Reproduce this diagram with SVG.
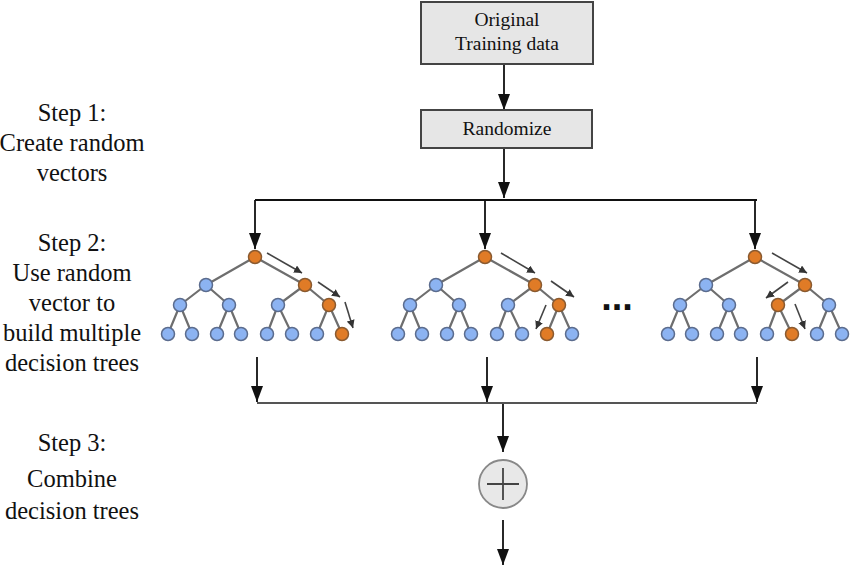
<svg xmlns="http://www.w3.org/2000/svg" xmlns:xlink="http://www.w3.org/1999/xlink" width="850" height="568" viewBox="0 0 850 568">
<style>
.lbl{font-family:"Liberation Serif","Times New Roman",serif;fill:#111;text-anchor:middle}
.step{font-size:24.5px}
.box{fill:#e6e6e6;stroke:#444;stroke-width:2}
.boxt{font-size:19.5px}
.conn{stroke:#111;stroke-width:1.8;fill:none}
.edge{stroke:#6e6e6e;stroke-width:2.2;fill:none}
.b{fill:#8cb3f2;stroke:#5b6c8e;stroke-width:1.5}
.o{fill:#e07b26;stroke:#8a5a30;stroke-width:1.5}
.ptr{stroke:#444;stroke-width:1.6;fill:none}
</style>
<defs>
<marker id="big" viewBox="0 0 16 12" refX="16" refY="6" markerWidth="16" markerHeight="12" markerUnits="userSpaceOnUse" orient="auto">
<path d="M0,0 L16,6 L0,12 z" fill="#111"/>
</marker>
<marker id="sm" viewBox="0 0 8 8" refX="8" refY="4" markerWidth="8" markerHeight="8" markerUnits="userSpaceOnUse" orient="auto">
<path d="M0,0 L8,4 L0,8 z" fill="#333"/>
</marker>
<g id="edges">
<path class="edge" d="M255,257 L206,285 M255,257 L305,285 M206,285 L180,305 M206,285 L229,305 M305,285 L278,305 M305,285 L329,305 M180,305 L168,334 M180,305 L192,334 M229,305 L217,334 M229,305 L241,334 M278,305 L267,334 M278,305 L292,334 M329,305 L317,334 M329,305 L342,334"/>
</g>
</defs>

<g id="step-labels">
<text class="lbl step" x="72" y="121">Step 1:</text>
<text class="lbl step" x="72" y="151">Create random</text>
<text class="lbl step" x="72" y="181">vectors</text>
<text class="lbl step" x="72" y="251">Step 2:</text>
<text class="lbl step" x="72" y="281">Use random</text>
<text class="lbl step" x="72" y="311">vector to</text>
<text class="lbl step" x="72" y="341">build multiple</text>
<text class="lbl step" x="72" y="371">decision trees</text>
<text class="lbl step" x="72" y="451">Step 3:</text>
<text class="lbl step" x="72" y="487">Combine</text>
<text class="lbl step" x="72" y="519">decision trees</text>
</g>

<g id="connectors">
<line class="conn" x1="504" y1="64" x2="504" y2="110" marker-end="url(#big)"/>
<line class="conn" x1="504" y1="148" x2="504" y2="198" marker-end="url(#big)"/>
<line class="conn" x1="255" y1="200" x2="757" y2="200"/>
<line class="conn" x1="255" y1="200" x2="255" y2="249" marker-end="url(#big)"/>
<line class="conn" x1="485" y1="200" x2="485" y2="249" marker-end="url(#big)"/>
<line class="conn" x1="755" y1="200" x2="755" y2="249" marker-end="url(#big)"/>
<line class="conn" x1="257" y1="357" x2="257" y2="402" marker-end="url(#big)"/>
<line class="conn" x1="487" y1="357" x2="487" y2="402" marker-end="url(#big)"/>
<line class="conn" x1="757" y1="357" x2="757" y2="402" marker-end="url(#big)"/>
<line class="conn" x1="257" y1="403" x2="757" y2="403" style="stroke:#555"/>
<line class="conn" x1="503" y1="404" x2="503" y2="452" marker-end="url(#big)"/>
<line class="conn" x1="503" y1="520" x2="503" y2="565" marker-end="url(#big)"/>
</g>

<g id="original">
<rect class="box" x="421" y="2" width="172" height="62"/>
<text class="lbl boxt" x="507" y="26">Original</text>
<text class="lbl boxt" x="507" y="50">Training data</text>
</g>

<g id="randomize">
<rect class="box" x="421" y="110" width="171" height="38"/>
<text class="lbl boxt" x="507" y="135">Randomize</text>
</g>

<g id="tree1">
<use xlink:href="#edges"/>
<circle class="o" cx="255" cy="257" r="6.5"/>
<circle class="b" cx="206" cy="285" r="6.5"/><circle class="o" cx="305" cy="285" r="6.5"/>
<circle class="b" cx="180" cy="305" r="6.5"/><circle class="b" cx="229" cy="305" r="6.5"/><circle class="b" cx="278" cy="305" r="6.5"/><circle class="o" cx="329" cy="305" r="6.5"/>
<circle class="b" cx="168" cy="334" r="6.5"/><circle class="b" cx="192" cy="334" r="6.5"/><circle class="b" cx="217" cy="334" r="6.5"/><circle class="b" cx="241" cy="334" r="6.5"/><circle class="b" cx="267" cy="334" r="6.5"/><circle class="b" cx="292" cy="334" r="6.5"/><circle class="b" cx="317" cy="334" r="6.5"/><circle class="o" cx="342" cy="334" r="6.5"/>
<line class="ptr" x1="267" y1="253" x2="302" y2="273" marker-end="url(#sm)"/>
<line class="ptr" x1="318" y1="282" x2="340" y2="297" marker-end="url(#sm)"/>
<line class="ptr" x1="345" y1="302" x2="353" y2="328" marker-end="url(#sm)"/>
</g>

<g id="tree2">
<use xlink:href="#edges" transform="translate(230,0)"/>
<circle class="o" cx="485" cy="257" r="6.5"/>
<circle class="b" cx="436" cy="285" r="6.5"/><circle class="o" cx="535" cy="285" r="6.5"/>
<circle class="b" cx="410" cy="305" r="6.5"/><circle class="b" cx="459" cy="305" r="6.5"/><circle class="b" cx="508" cy="305" r="6.5"/><circle class="o" cx="559" cy="305" r="6.5"/>
<circle class="b" cx="398" cy="334" r="6.5"/><circle class="b" cx="422" cy="334" r="6.5"/><circle class="b" cx="447" cy="334" r="6.5"/><circle class="b" cx="471" cy="334" r="6.5"/><circle class="b" cx="497" cy="334" r="6.5"/><circle class="b" cx="522" cy="334" r="6.5"/><circle class="o" cx="547" cy="334" r="6.5"/><circle class="b" cx="572" cy="334" r="6.5"/>
<line class="ptr" x1="501" y1="253" x2="535" y2="273" marker-end="url(#sm)"/>
<line class="ptr" x1="551" y1="281" x2="574" y2="297" marker-end="url(#sm)"/>
<line class="ptr" x1="546" y1="305" x2="536" y2="329" marker-end="url(#sm)"/>
</g>

<g id="ellipsis">
<text x="617" y="310" style="font-family:'Liberation Sans',Arial,sans-serif;font-size:38px;font-weight:bold;fill:#111;text-anchor:middle">...</text>
</g>

<g id="tree3">
<use xlink:href="#edges" transform="translate(500,0)"/>
<circle class="o" cx="755" cy="257" r="6.5"/>
<circle class="b" cx="706" cy="285" r="6.5"/><circle class="o" cx="805" cy="285" r="6.5"/>
<circle class="b" cx="680" cy="305" r="6.5"/><circle class="b" cx="729" cy="305" r="6.5"/><circle class="o" cx="778" cy="305" r="6.5"/><circle class="b" cx="829" cy="305" r="6.5"/>
<circle class="b" cx="668" cy="334" r="6.5"/><circle class="b" cx="692" cy="334" r="6.5"/><circle class="b" cx="717" cy="334" r="6.5"/><circle class="b" cx="741" cy="334" r="6.5"/><circle class="b" cx="767" cy="334" r="6.5"/><circle class="o" cx="792" cy="334" r="6.5"/><circle class="b" cx="817" cy="334" r="6.5"/><circle class="b" cx="842" cy="334" r="6.5"/>
<line class="ptr" x1="772" y1="253" x2="807" y2="273" marker-end="url(#sm)"/>
<line class="ptr" x1="788" y1="282" x2="766" y2="298" marker-end="url(#sm)"/>
<line class="ptr" x1="795" y1="304" x2="805" y2="329" marker-end="url(#sm)"/>
</g>

<g id="combine">
<circle cx="503" cy="484" r="24" fill="#e8e8e8" stroke="#888" stroke-width="1.8"/>
<path d="M487,484 H519 M503,468 V500" stroke="#444" stroke-width="1.8" fill="none"/>
</g>
</svg>
